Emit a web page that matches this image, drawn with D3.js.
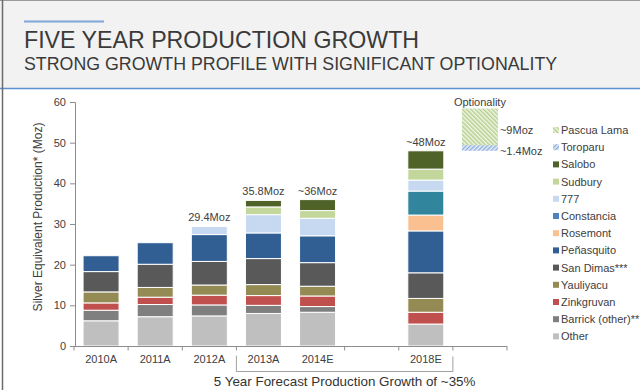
<!DOCTYPE html>
<html><head><meta charset="utf-8">
<script src="https://cdn.jsdelivr.net/npm/d3@7"></script>
<style>
body{margin:0;background:#fff}
svg{display:block;font-family:"Liberation Sans",Arial,Helvetica,sans-serif}
</style>
</head><body><svg id="c" width="640" height="390"></svg>
<script>
// ---- data ----
const categories = ["2010A","2011A","2012A","2013A","2014E","2018E"];
const slots = ["2010A","2011A","2012A","2013A","2014E","gap","2018E","opt"];
const seriesNames = ["Other","Barrick (other)**","Zinkgruvan","Yauliyacu","San Dimas***","Peñasquito","Rosemont","Constancia","777","Sudbury","Salobo"];
const other      = [6.2, 7.2, 7.4, 8.0, 8.3, 5.4];
const barrick    = [2.6, 3.0, 2.7, 2.0, 1.4, 0];
const zinkgruvan = [1.8, 1.8, 2.4, 2.4, 2.6, 2.9];
const yauliyacu  = [2.7, 2.4, 2.5, 2.7, 2.4, 3.4];
const sanDimas   = [5.0, 5.7, 5.8, 6.4, 5.8, 6.3];
const penasquito = [3.9, 5.3, 6.6, 6.3, 6.6, 10.3];
const rosemont   = [0, 0, 0, 0, 0, 3.9];
const constancia = [0, 0, 0, 0, 0, 5.9];
const s777       = [0, 0, 2.0, 4.5, 4.3, 2.7];
const sudbury    = [0, 0, 0, 1.9, 1.9, 2.7];
const salobo     = [0, 0, 0, 1.6, 2.7, 4.5];
const seriesValues = [other, barrick, zinkgruvan, yauliyacu, sanDimas, penasquito, rosemont, constancia, s777, sudbury, salobo];
const totalLabels = ["", "", "29.4Moz", "35.8Moz", "~36Moz", "~48Moz"];
const optionNames = ["Toroparu", "Pascua Lama"];
const optionValues = [1.4, 9];
const optionLabels = ["~1.4Moz", "~9Moz"];
const yTicks = [0, 10, 20, 30, 40, 50, 60];
const legendOrder = ["Pascua Lama","Toroparu","Salobo","Sudbury","777","Constancia","Rosemont","Peñasquito","San Dimas***","Yauliyacu","Zinkgruvan","Barrick (other)**","Other"];

// ---- styles ----
const barColor = {"Other":"#bfbfbf","Barrick (other)**":"#7f7f7f","Zinkgruvan":"#c0504d","Yauliyacu":"#948a54","San Dimas***":"#595959","Peñasquito":"#315f94","Rosemont":"#fac090","Constancia":"#31859c","777":"#c6d9f1","Sudbury":"#c3d69b","Salobo":"#4f6228","Toroparu":"url(#hBlue)","Pascua Lama":"url(#hGreen)"};
const legendColor = Object.assign({}, barColor, {"Constancia":"#4f81bd"});

const svg = d3.select("#c");
const defs = svg.append("defs");
const pg = defs.append("pattern").attr("id","hGreen").attr("patternUnits","userSpaceOnUse")
  .attr("width",3).attr("height",3).attr("patternTransform","rotate(-45)");
pg.append("rect").attr("width",3).attr("height",3).attr("fill","#eef4e2");
pg.append("rect").attr("width",1.4).attr("height",3).attr("fill","#b5cf8e");
const pb = defs.append("pattern").attr("id","hBlue").attr("patternUnits","userSpaceOnUse")
  .attr("width",3).attr("height",3).attr("patternTransform","rotate(45)");
pb.append("rect").attr("width",3).attr("height",3).attr("fill","#e6eef8");
pb.append("rect").attr("width",1.4).attr("height",3).attr("fill","#8eaedb");

// header
svg.append("rect").attr("x",0).attr("y",0).attr("width",640).attr("height",88).attr("fill","#f2f2f2");
svg.append("line").attr("x1",0).attr("x2",640).attr("y1",88.5).attr("y2",88.5).attr("stroke","#5b8fcf").attr("stroke-width",1.5);
svg.append("line").attr("x1",24).attr("x2",104).attr("y1",21.5).attr("y2",21.5).attr("stroke","#7ea7d8").attr("stroke-width",2);
svg.append("line").attr("x1",0).attr("x2",640).attr("y1",0.5).attr("y2",0.5).attr("stroke","#9a9a9a").attr("stroke-width",1);
svg.append("line").attr("x1",2.5).attr("x2",2.5).attr("y1",0).attr("y2",390).attr("stroke","#6b6b6b").attr("stroke-width",1.5);
svg.append("text").attr("x",24).attr("y",47.5).attr("font-size",23.2).attr("fill","#3a3a3a").text("FIVE YEAR PRODUCTION GROWTH");
svg.append("text").attr("x",24).attr("y",70).attr("font-size",17.8).attr("fill","#3a3a3a").text("STRONG GROWTH PROFILE WITH SIGNIFICANT OPTIONALITY");

// scales
const y = d3.scaleLinear().domain([0,60]).range([346,102]);
const x = d3.scaleBand().domain(slots).range([74,507]).paddingInner(0.335).paddingOuter(0.1675);
const bw = x.bandwidth();

// stack
const rows = categories.map((c,i) => {
  const r = {cat:c};
  seriesNames.forEach((s,k) => r[s] = seriesValues[k][i]);
  return r;
});
const stacked = d3.stack().keys(seriesNames)(rows);

const g = svg.append("g");
stacked.forEach(layer => {
  g.selectAll(null).data(layer.filter(d => d[1] - d[0] > 0)).enter().append("rect")
    .attr("x", d => x(d.data.cat))
    .attr("width", bw)
    .attr("y", d => y(d[1]))
    .attr("height", d => y(d[0]) - y(d[1]))
    .attr("fill", barColor[layer.key])
    .attr("stroke","#fff").attr("stroke-width",1);
});

// total labels
g.selectAll(null).data(rows).enter().append("text")
  .attr("x", d => x(d.cat) + bw/2)
  .attr("y", (d,i) => y(d3.sum(seriesNames, s => d[s])) - 5)
  .attr("text-anchor","middle").attr("font-size",11).attr("fill","#404040")
  .text((d,i) => totalLabels[i]);

// optionality stack on top of 2018E total
const base = d3.sum(seriesValues, v => v[categories.indexOf("2018E")]);
let acc = base;
const optSegs = optionValues.map((v,i) => { const s = {name:optionNames[i], y0:acc, y1:acc+v, label:optionLabels[i]}; acc += v; return s; });
g.selectAll(null).data(optSegs).enter().append("rect")
  .attr("x", x("opt")).attr("width", bw)
  .attr("y", d => y(d.y1)).attr("height", d => y(d.y0) - y(d.y1))
  .attr("fill", d => barColor[d.name]);
g.selectAll(null).data(optSegs).enter().append("text")
  .attr("x", x("opt") + bw + 2)
  .attr("y", (d,i) => (i === 0 ? y(d.y0) : y((d.y0+d.y1)/2) + 3) + 4)
  .attr("font-size",11).attr("fill","#404040").text(d => d.label);
g.append("text").attr("x", x("opt") + bw/2).attr("y", y(acc) - 3)
  .attr("text-anchor","middle").attr("font-size",11).attr("fill","#404040").text("Optionality");

// y axis
const ya = svg.append("g").attr("transform","translate(75,0)")
  .call(d3.axisLeft(y).tickValues(yTicks).tickSize(5).tickPadding(4));
ya.select(".domain").attr("stroke","#8c8c8c");
ya.selectAll(".tick line").attr("stroke","#8c8c8c");
ya.selectAll(".tick text").attr("font-size",11).attr("fill","#404040").attr("font-family","Liberation Sans, Arial, sans-serif");

svg.append("text").attr("transform","translate(42,217) rotate(-90)")
  .attr("text-anchor","middle").attr("font-size",12).attr("fill","#404040")
  .text("Silver Equivalent Production*  (Moz)");

// x axis
const xa = svg.append("g").attr("transform","translate(0,346)")
  .call(d3.axisBottom(x).tickSize(0).tickPadding(9).tickFormat(d => categories.includes(d) ? d : ""));
xa.select(".domain").attr("stroke","#8c8c8c").attr("d", `M${x.range()[0]},0.5H${x.range()[1]}`);
xa.selectAll(".tick text").attr("font-size",11).attr("fill","#404040").attr("font-family","Liberation Sans, Arial, sans-serif");
const boundaries = d3.range(slots.length + 1).filter(i => i !== 4).map(i => x.range()[0] + i * x.step());
svg.append("g").selectAll("line").data(boundaries).enter().append("line")
  .attr("x1", d => d).attr("x2", d => d).attr("y1",346).attr("y2",350.5)
  .attr("stroke","#8c8c8c");

// bracket
const bx0 = x("2013A") - x.step()*x.paddingInner()/2;
const bx1 = x("2018E") + bw + x.step()*x.paddingInner()/2;
svg.append("path").attr("d", `M${bx0},355.5V371.5H${bx1}V356.5`)
  .attr("fill","none").attr("stroke","#a0a0a0").attr("stroke-width",1);
svg.append("text").attr("x",(bx0+bx1)/2).attr("y",386).attr("text-anchor","middle")
  .attr("font-size",13.4).attr("fill","#333").text("5 Year Forecast Production Growth of ~35%");

// legend
const lg = svg.append("g");
legendOrder.forEach((name,i) => {
  const yy = 130 + i * 17.2;
  lg.append("rect").attr("x",553).attr("y",yy-3).attr("width",6).attr("height",6).attr("fill",legendColor[name]);
  lg.append("text").attr("x",561).attr("y",yy+4).attr("font-size",11).attr("fill","#404040").text(name);
});
</script>
</body></html>
